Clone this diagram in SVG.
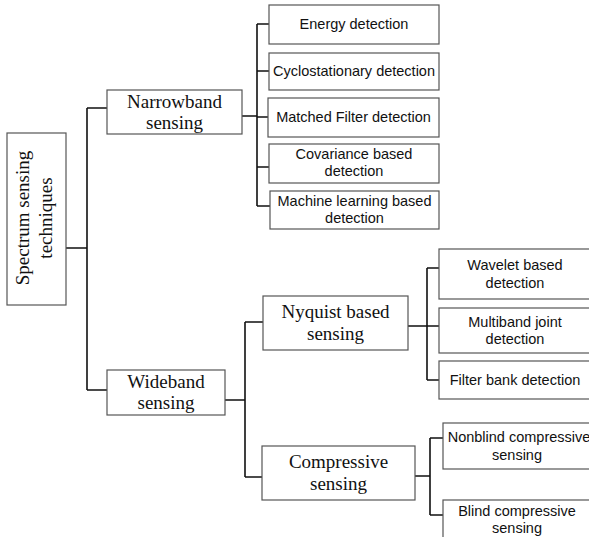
<svg xmlns="http://www.w3.org/2000/svg" width="589" height="537" viewBox="0 0 589 537">
<style>
.box{fill:#fff;stroke:#555;stroke-width:1.2}
.ser{font-family:"Liberation Serif","Times New Roman",serif;font-size:19px;fill:#111;text-anchor:middle}
.san{font-family:"Liberation Sans",Arial,sans-serif;font-size:14.5px;fill:#111;text-anchor:middle}
.con{fill:none;stroke:#111;stroke-width:1.6}
</style>
<rect width="589" height="537" fill="#fff"/>
<g id="connectors">
<path class="con" d="M66 248H87M87 108V390M87 108H107M87 390H107"/>
<path class="con" d="M242 116H257M257 24V206M257 24H269M257 71H269M257 117H268M257 167H269M257 206H270"/>
<path class="con" d="M225 400H245M245 322V477M245 322H263M245 477H262"/>
<path class="con" d="M408 326H427M427 268V380M427 268H439M427 326H439M427 380H439"/>
<path class="con" d="M415 476H430M430 438V515M430 438H443M430 515H443"/>
</g>
<g id="root">
<rect class="box" x="7" y="133" width="59" height="172"/>
<text class="ser" transform="translate(29 218) rotate(-90)">Spectrum sensing</text>
<text class="ser" transform="translate(52 218) rotate(-90)">techniques</text>
</g>
<g id="narrowband">
<rect class="box" x="107" y="90" width="135" height="44"/>
<text class="ser" x="174.5" y="108">Narrowband</text>
<text class="ser" x="174.5" y="129">sensing</text>
</g>
<g id="wideband">
<rect class="box" x="107" y="370" width="118" height="45"/>
<text class="ser" x="166" y="388">Wideband</text>
<text class="ser" x="166" y="409">sensing</text>
</g>
<g id="energy">
<rect class="box" x="269" y="5" width="170" height="39"/>
<text class="san" x="354" y="29">Energy detection</text>
</g>
<g id="cyclo">
<rect class="box" x="269" y="53" width="170" height="37"/>
<text class="san" x="354" y="76">Cyclostationary detection</text>
</g>
<g id="matched">
<rect class="box" x="268" y="98" width="171" height="39"/>
<text class="san" x="353.5" y="122">Matched Filter detection</text>
</g>
<g id="covariance">
<rect class="box" x="269" y="144" width="170" height="39"/>
<text class="san" x="354" y="159">Covariance based</text>
<text class="san" x="354" y="176">detection</text>
</g>
<g id="machine">
<rect class="box" x="270" y="191" width="169" height="38"/>
<text class="san" x="354.5" y="206">Machine learning based</text>
<text class="san" x="354.5" y="223">detection</text>
</g>
<g id="nyquist">
<rect class="box" x="263" y="296" width="145" height="54"/>
<text class="ser" x="335.5" y="318">Nyquist based</text>
<text class="ser" x="335.5" y="340">sensing</text>
</g>
<g id="compressive">
<rect class="box" x="262" y="446" width="153" height="54"/>
<text class="ser" x="338.5" y="468">Compressive</text>
<text class="ser" x="338.5" y="490">sensing</text>
</g>
<g id="wavelet">
<rect class="box" x="439" y="249" width="153" height="50"/>
<text class="san" x="515" y="270">Wavelet based</text>
<text class="san" x="515" y="288">detection</text>
</g>
<g id="multiband">
<rect class="box" x="439" y="308" width="153" height="45"/>
<text class="san" x="515" y="327">Multiband joint</text>
<text class="san" x="515" y="344">detection</text>
</g>
<g id="filterbank">
<rect class="box" x="439" y="361" width="153" height="38"/>
<text class="san" x="515" y="385">Filter bank detection</text>
</g>
<g id="nonblind">
<rect class="box" x="443" y="423" width="149" height="46"/>
<text class="san" x="519" y="442">Nonblind compressive</text>
<text class="san" x="517" y="460">sensing</text>
</g>
<g id="blind">
<rect class="box" x="443" y="500" width="149" height="45"/>
<text class="san" x="517" y="516">Blind compressive</text>
<text class="san" x="517" y="533">sensing</text>
</g>
</svg>
